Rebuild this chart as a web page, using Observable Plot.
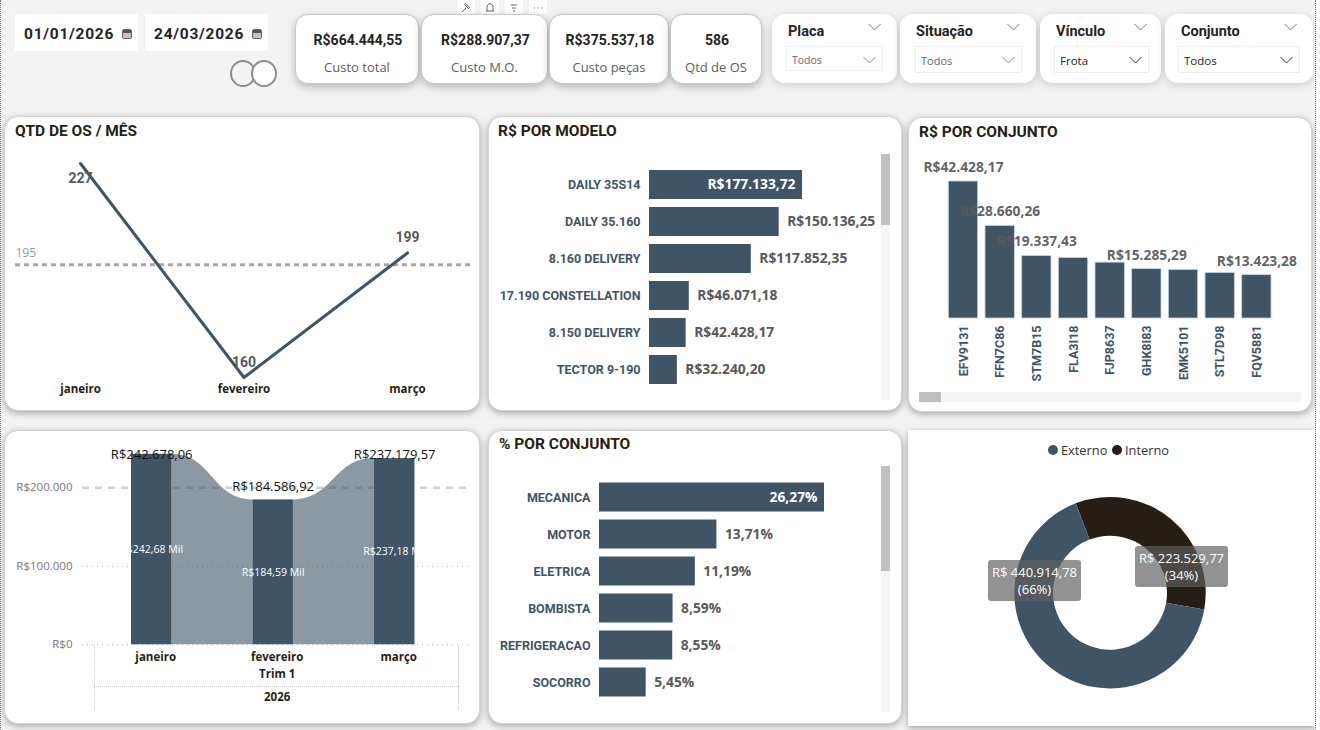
<!DOCTYPE html>
<html lang="pt-BR"><head><meta charset="utf-8">
<script src="https://cdn.jsdelivr.net/npm/d3@7"></script>
<script src="https://cdn.jsdelivr.net/npm/@observablehq/plot@0.6"></script>
<style>
html,body{margin:0;padding:0;background:#f3f3f3;width:1320px;height:730px;overflow:hidden;font-family:"Open Sans",sans-serif}
#page{position:relative;width:1320px;height:730px;overflow:hidden}
.abs{position:absolute;box-sizing:border-box}
.card{position:absolute;box-sizing:border-box;background:#fff;border:1px solid #d4d4d4;border-radius:14px;box-shadow:0 2px 7px rgba(0,0,0,.32)}
.kpi{position:absolute;box-sizing:border-box;background:#fff;border:1px solid #c8c8c8;border-radius:13px;box-shadow:0 3px 9px rgba(0,0,0,.25);top:14px;height:70px;text-align:center}
.slicer{position:absolute;box-sizing:border-box;background:#fff;border-radius:13px;box-shadow:0 2px 10px rgba(0,0,0,.17);top:14px;height:69px}
.din{font-family:Roboto,sans-serif;font-weight:700}
.title{position:absolute;font-family:Roboto,sans-serif;font-weight:700;font-size:15.5px;color:#261e15;line-height:18px;white-space:nowrap}
svg{overflow:visible}
</style></head><body><div id="page"></div>
<script>
// ---- data ----
const kpiLabels = ["Custo total", "Custo M.O.", "Custo peças", "Qtd de OS"];
const kpiValues = ["R$664.444,55", "R$288.907,37", "R$375.537,18", "586"];
const dateRange = ["01/01/2026", "24/03/2026"];
const slicerNames = ["Placa", "Situação", "Vínculo", "Conjunto"];
const slicerValues = ["Todos", "Todos", "Frota", "Todos"];

const months = ["janeiro", "fevereiro", "março"];
const osCounts = [227, 160, 199];
const osReference = 195;

const modelNames = ["DAILY 35S14", "DAILY 35.160", "8.160 DELIVERY", "17.190 CONSTELLATION", "8.150 DELIVERY", "TECTOR 9-190"];
const modelCosts = [177133.72, 150136.25, 117852.35, 46071.18, 42428.17, 32240.20];

const plates = ["EFV9131", "FFN7C86", "STM7B15", "FLA3I18", "FJP8637", "GHK8I83", "EMK5101", "STL7D98", "FQV5881"];
const plateCosts = [42428.17, 28660.26, 19337.43, 18750, 17300, 15285.29, 15020, 14090, 13423.28];
const plateLabelled = ["EFV9131", "FFN7C86", "STM7B15", "GHK8I83", "FQV5881"];

const monthCosts = [242678.06, 184586.92, 237179.57];
const costReference = 200000;
const costTicks = [0, 100000, 200000];

const groupNames = ["MECANICA", "MOTOR", "ELETRICA", "BOMBISTA", "REFRIGERACAO", "SOCORRO"];
const groupShares = [26.27, 13.71, 11.19, 8.59, 8.55, 5.45];

const linkTypes = ["Externo", "Interno"];
const linkCosts = [440914.78, 223529.77];
const linkShares = [66, 34];

// ---- styles ----
const BLUE = "#3f5566", DARK = "#261e15", GREY = "#595959";
const SANS = "Open Sans", DIN = "Roboto";
const br = d3.formatLocale({decimal: ",", thousands: ".", grouping: [3], currency: ["R$", ""]});
const brl = br.format("$,.2f");
const pct = v => br.format(",.2f")(v) + "%";
const page = document.getElementById("page");

function div(cls, x, y, w, h, css = "", text = "") {
  const e = document.createElement("div");
  e.className = cls;
  e.style.cssText = `left:${x}px;top:${y}px;` + (w != null ? `width:${w}px;` : "") + (h != null ? `height:${h}px;` : "") + css;
  if (text) e.textContent = text;
  page.appendChild(e);
  return e;
}
function put(plot, c) {
  plot.style.position = "absolute"; plot.style.left = c.x + "px"; plot.style.top = c.y + "px";
  plot.style.background = "transparent";
  page.appendChild(plot);
}
function chevron(x, y, w, color) {
  const e = document.createElementNS("http://www.w3.org/2000/svg", "svg");
  e.setAttribute("width", w); e.setAttribute("height", 8);
  e.style.cssText = `position:absolute;left:${x - w / 2}px;top:${y - 4}px`;
  e.innerHTML = `<polyline points="0.5,1 ${w / 2},7 ${w - 0.5},1" fill="none" stroke="${color}" stroke-width="1"/>`;
  page.appendChild(e);
}

// ---- card frames ----
const cOS = {x: 4, y: 116, w: 476, h: 295};
const cModel = {x: 488, y: 116, w: 414, h: 295};
const cPlate = {x: 908, y: 117, w: 404, h: 295};
const cMonth = {x: 4, y: 430, w: 476, h: 294};
const cGroup = {x: 488, y: 430, w: 414, h: 294};
const cLink = {x: 908, y: 430, w: 407, h: 296};
for (const c of [cOS, cModel, cPlate, cMonth, cGroup]) div("card", c.x, c.y, c.w, c.h);
div("abs", cLink.x, cLink.y, cLink.w, cLink.h, "background:#fff;box-shadow:0 2px 6px rgba(0,0,0,.35)");
div("abs", 0, 0, 1, 730, "border-left:1px dotted #777");
div("abs", 1315, 0, 5, 730, "background:#fff;border-left:1px dotted #777");

div("title", 15, 122, null, null, "", "QTD DE OS / MÊS");
div("title", 498, 122, null, null, "", "R$ POR MODELO");
div("title", 919, 123, null, null, "", "R$ POR CONJUNTO");
div("title", 499, 435, null, null, "", "% POR CONJUNTO");

// ---- top strip ----
[15, 145].forEach((x, i) => {
  div("abs", x, 14, 123, 37, "background:#fff");
  div("abs din", x + 9, 24, null, null, "font-size:15.5px;letter-spacing:.75px;color:#252423;line-height:20px", dateRange[i]);
  div("abs", x + 107, 29, 10, 10, "background:linear-gradient(#555 0 40%,#c9c2b4 40%);border:1px solid #666;border-radius:2px");
});
div("abs", 28, 73, 205, 1, "background:#efefef");
[243, 264].forEach(x => div("abs", x - 13, 60, 26, 27, "background:#fff;border:2px solid #8d8d8d;border-radius:50%;" + (x === 243 ? "background:transparent" : "")));
[[457, "M5 12 L9 8 M7 4 L12 9 M8 3 L13 8"], [481, "M5 11 H13 M6 11 V6 Q9 1 12 6 V11"], [505, "M6 5 H12 M7 8 H11 M8 11 H10"], [529, "M5 8 H6 M8.5 8 H9.5 M12 8 H13"]].forEach(([x, p]) => {
  const e = document.createElementNS("http://www.w3.org/2000/svg", "svg");
  e.setAttribute("width", 18); e.setAttribute("height", 14);
  e.style.cssText = `position:absolute;left:${x}px;top:0;background:#fff`;
  e.innerHTML = `<path d="${p}" fill="none" stroke="#666" stroke-width="1"/>`;
  page.appendChild(e);
});
const kpiBoxes = [[295, 124], [421, 127], [549, 120], [670, 92]];
kpiBoxes.forEach(([x, w], i) => {
  const k = div("kpi", x, 14, w, null);
  k.innerHTML = `<div class="din" style="font-size:14px;color:#252423;margin-top:15px;line-height:20px;padding-left:2px">${kpiValues[i]}</div>
  <div style="font-size:13px;color:#605e5c;margin-top:8px;line-height:18px">${kpiLabels[i]}</div>`;
});
const slicerBoxes = [
  {x: 772, w: 125, bx: 786, bw: 97, by: 46, bh: 25, fs: 10.5, tc: "#666", bc: "#eee"},
  {x: 900, w: 136, bx: 915, bw: 107, by: 46, bh: 27, fs: 11, tc: "#666", bc: "#eee"},
  {x: 1040, w: 121, bx: 1054, bw: 95, by: 46, bh: 27, fs: 11.5, tc: "#222", bc: "#eee"},
  {x: 1165, w: 148, bx: 1178, bw: 122, by: 46, bh: 27, fs: 11.5, tc: "#222", bc: "#eee"}
];
slicerBoxes.forEach((s, i) => {
  div("slicer", s.x, 14, s.w, null);
  div("abs din", s.x + 16, 23, null, null, "font-size:14.5px;color:#252423;line-height:18px", slicerNames[i]);
  chevron(s.bx + s.bw - 9 + (i === 3 ? -1 : 0), 27, 13, "#777");
  div("abs", s.bx, s.by, s.bw, s.bh, `background:#fff;border:1px solid ${s.bc}`);
  div("abs", s.bx + 6, s.by + 7, null, null, `font-size:${s.fs}px;color:${s.tc};line-height:15px`, slicerValues[i]);
  chevron(s.bx + s.bw - 14, s.by + 14, 13, i < 2 ? "#888" : "#333");
});

// ---- QTD DE OS / MÊS ----
const osData = months.map((m, i) => ({m, v: osCounts[i]}));
put(Plot.plot({
  width: cOS.w, height: cOS.h, marginLeft: 11, marginRight: 8, marginTop: 0, marginBottom: 0,
  x: {type: "point", domain: months, padding: 0, round: false, range: [80 - cOS.x, 407 - cOS.x], axis: null},
  y: {domain: [160, 227], range: [377 - cOS.y, 163 - cOS.y], axis: null},
  marks: [
    Plot.ruleY([osReference], {stroke: "#a9a9a9", strokeWidth: 3, strokeDasharray: "5,4", dy: -1}),
    Plot.text([osReference], {y: d => d, frameAnchor: "left", dy: -13, text: d => String(d), fill: "#7d9db6", fontFamily: SANS, fontSize: 12, textAnchor: "start"}),
    Plot.line(osData, {x: "m", y: "v", stroke: BLUE, strokeWidth: 3}),
    Plot.text(osData, {x: "m", y: "v", text: d => String(d.v), dy: 15, filter: d => d.m === months[0], fill: GREY, fontFamily: DIN, fontWeight: 700, fontSize: 14}),
    Plot.text(osData, {x: "m", y: "v", text: d => String(d.v), dy: -15, filter: d => d.m !== months[0], fill: GREY, fontFamily: DIN, fontWeight: 700, fontSize: 14}),
    Plot.text(months, {x: d => d, y: () => 160, dy: 12, text: d => d, fill: DARK, fontFamily: SANS, fontWeight: 700, fontSize: 11.5})
  ]
}), cOS);

// ---- horizontal bars shared by two cards ----
function hbars(c, names, values, zeroX, endX, format, firstCy) {
  const rows = names.map((name, i) => ({name, v: values[i]}));
  const top = rows[0].v;
  put(Plot.plot({
    width: c.w, height: c.h, marginLeft: zeroX - c.x, marginRight: 10, marginTop: 0, marginBottom: 0,
    x: {domain: [0, top], range: [zeroX - c.x, endX - c.x], axis: null},
    y: {domain: names, range: [firstCy - 18.5 - c.y, firstCy + 5 * 37 + 18.5 - c.y], paddingInner: 0.216, paddingOuter: 0.108, round: false, axis: null},
    marks: [
      Plot.barX(rows, {x: "v", y: "name", fill: BLUE}),
      Plot.axisY({domain: names, tickSize: 0, tickPadding: 9, anchor: "left", label: null, fill: "#3f5566", fontFamily: DIN, fontWeight: 700, fontSize: 12.5}),
      Plot.text(rows, {x: "v", y: "name", text: d => format(d.v), filter: d => d.v === top, dx: -7, textAnchor: "end", fill: "#fff", fontFamily: SANS, fontWeight: 700, fontSize: 13.8}),
      Plot.text(rows, {x: "v", y: "name", text: d => format(d.v), filter: d => d.v !== top, dx: 8, textAnchor: "start", fill: GREY, fontFamily: SANS, fontWeight: 700, fontSize: 13.8})
    ]
  }), c);
}
hbars(cModel, modelNames, modelCosts, 649, 802, brl, 184.5);
hbars(cGroup, groupNames, groupShares, 599, 824, pct, 497);
div("abs", 881, 154, 9, 246, "background:#f5f5f5"); div("abs", 881, 154, 9, 71, "background:#c0c0c0");
div("abs", 881, 466, 9, 246, "background:#f5f5f5"); div("abs", 881, 466, 9, 105, "background:#c0c0c0");

// ---- R$ POR CONJUNTO ----
const plateRows = plates.map((p, i) => ({p, v: plateCosts[i]}));
const plateStep = 36.67;
put(Plot.plot({
  width: cPlate.w, height: cPlate.h, marginLeft: 0, marginRight: 0, marginTop: 0, marginBottom: cPlate.h - (318 - cPlate.y),
  x: {domain: plates, range: [963 - plateStep / 2 - cPlate.x, 963 + 8.5 * plateStep - cPlate.x], paddingInner: 0.2, paddingOuter: 0.1, round: false, axis: null},
  y: {domain: [0, plateCosts[0]], range: [318 - cPlate.y, 181 - cPlate.y], axis: null},
  marks: [
    Plot.barY(plateRows, {x: "p", y: "v", fill: BLUE, stroke: "#c6d3dc", strokeWidth: 0.8}),
    Plot.axisX({domain: plates, anchor: "bottom", tickSize: 0, tickPadding: 7, tickRotate: -90, label: null, fill: "#3f5566", fontFamily: DIN, fontWeight: 700, fontSize: 12.5}),
    Plot.text(plateRows, {x: "p", y: "v", text: d => brl(d.v), filter: d => plateLabelled.includes(d.p), dy: -14, fill: GREY, fontFamily: SANS, fontWeight: 700, fontSize: 13.8, fillOpacity: 0.95})
  ]
}), cPlate);
div("abs", 919, 392, 382, 10, "background:#f5f5f5"); div("abs", 919, 392, 22, 10, "background:#c0c0c0");
div("abs", 941, 392, 1, 10, "background:#fff");

// ---- monthly ribbon ----
const barHalf = 1 / 6;
const monthRows = months.map((m, i) => ({m, i, v: monthCosts[i]}));
const ribbons = monthRows.slice(1).map((d, k) => [
  {x: monthRows[k].i + barHalf, y: monthRows[k].v},
  {x: d.i - barHalf, y: d.v}
]);
put(Plot.plot({
  width: cMonth.w, height: cMonth.h, marginLeft: 82 - cMonth.x, marginRight: cMonth.x + cMonth.w - 468, marginTop: 0, marginBottom: 0,
  x: {domain: [0, 2], range: [151.2 - cMonth.x, 394.2 - cMonth.x], axis: null},
  y: {domain: [0, 200000], range: [644.3 - cMonth.y, 487.3 - cMonth.y], axis: null},
  marks: [
    Plot.ruleY([100000, 0], {stroke: "#b5b5b5", strokeWidth: 1, strokeDasharray: "1,4"}),
    Plot.ruleY([costReference], {stroke: "#c5d3de", strokeWidth: 2.5, strokeDasharray: "7,6"}),
    Plot.axisY({ticks: costTicks, tickSize: 0, tickPadding: 10, anchor: "left", label: null, tickFormat: br.format("$,.0f"), fill: "#777", fontFamily: SANS, fontSize: 11.5}),
    ...ribbons.map(r => Plot.areaY(r, {x: "x", y: "y", curve: "bump-x", fill: BLUE, fillOpacity: 0.6})),
    Plot.rectY(monthRows, {x1: d => d.i - barHalf, x2: d => d.i + barHalf, y: "v", fill: BLUE}),
    Plot.text(monthRows, {x: "i", text: d => brl(d.v), frameAnchor: "top", dy: 19, filter: d => d.i !== 1, fill: "#111", fontFamily: SANS, fontSize: 13}),
    Plot.text(monthRows, {x: "i", y: "v", text: d => brl(d.v), dy: -13, filter: d => d.i === 1, fill: "#111", fontFamily: SANS, fontSize: 13}),
    Plot.text(monthRows, {x: "i", y: d => d.v / 2, text: d => "R$" + br.format(",.2f")(d.v / 1000) + " Mil", fill: "#fff", fontFamily: SANS, fontSize: 10.5}),
    Plot.text(months, {x: (d, i) => i, y: () => 0, dx: 4, dy: 13, text: d => d, fill: DARK, fontFamily: SANS, fontWeight: 700, fontSize: 11.5}),
    Plot.text(["Trim 1"], {x: () => 1, y: () => 0, dx: 4, dy: 30, text: d => d, fill: DARK, fontFamily: SANS, fontWeight: 700, fontSize: 11.5}),
    Plot.text(["2026"], {x: () => 1, y: () => 0, dx: 4, dy: 53, text: d => d, fill: DARK, fontFamily: SANS, fontWeight: 700, fontSize: 11.5})
  ]
}), cMonth);
div("abs", 94, 645, 365, 65, "border-left:1px dotted #c4c4c4;border-right:1px dotted #c4c4c4");
div("abs", 94, 686, 365, 1, "border-top:1px dotted #c4c4c4");

// ---- donut ----
const donutShares = linkCosts.map(v => v / d3.sum(linkCosts));
const startDeg = -21;
const donutMark = (index, scales, values, dims) => {
  const g = d3.create("svg:g").attr("transform", `translate(${1110 - cLink.x},${592.7 - cLink.y})`);
  const arc = d3.arc().innerRadius(57).outerRadius(95.7);
  let a = startDeg * Math.PI / 180;
  [1, 0].forEach(i => {
    const b = a + donutShares[i] * 2 * Math.PI;
    g.append("path").attr("d", arc({startAngle: a, endAngle: b})).attr("fill", i === 0 ? BLUE : DARK);
    a = b;
  });
  return g.node();
};
put(Plot.plot({width: cLink.w, height: cLink.h, margin: 0, x: {axis: null}, y: {axis: null}, marks: [donutMark]}), cLink);
const legendPos = [[1053, 1061], [1117, 1125]];
linkTypes.forEach((t, i) => {
  div("abs", legendPos[i][0] - 5, 445, 10, 10, `border-radius:50%;background:${i ? DARK : BLUE}`);
  div("abs", legendPos[i][1], 441, null, null, "font-size:12.8px;color:#333;line-height:18px", t);
});
const tagBoxes = [[988, 560], [1135, 546]];
linkTypes.forEach((t, i) => {
  const e = div("abs", tagBoxes[i][0], tagBoxes[i][1], 93, 41, "background:rgba(95,95,95,.68);border-radius:3px;color:#fff;font-size:13px;line-height:16.5px;text-align:center;padding-top:4px;white-space:nowrap");
  e.innerHTML = "R$ " + br.format(",.2f")(linkCosts[i]) + "<br>(" + linkShares[i] + "%)";
});
</script></body></html>
